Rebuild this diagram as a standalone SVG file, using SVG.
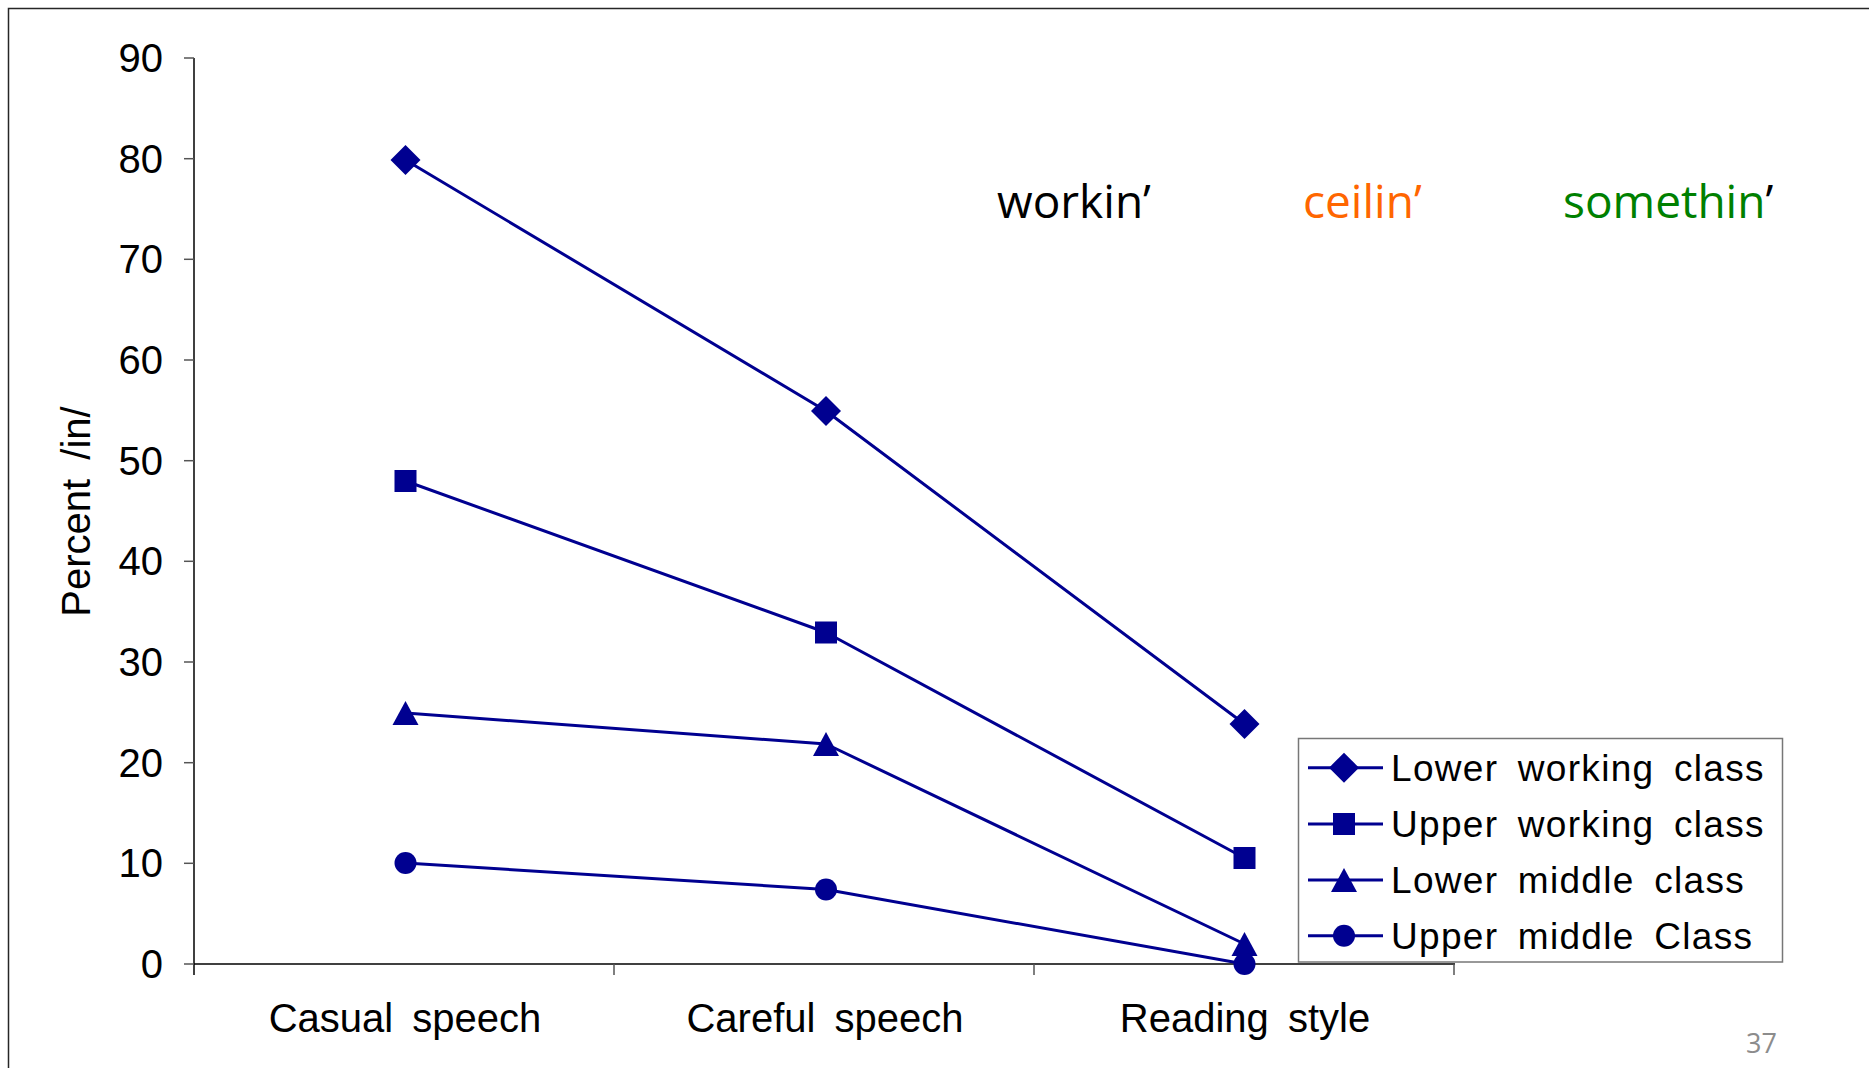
<svg xmlns="http://www.w3.org/2000/svg" width="1869" height="1068" viewBox="0 0 1869 1068">
<defs>
<style>
.ax{font-family:"Liberation Sans",Arial,sans-serif;font-size:40px;fill:#000;word-spacing:8px}
.tick{stroke:#555;stroke-width:1.5}
.axis{stroke:#000;stroke-width:1.5;fill:none}
.ser{stroke:#000090;stroke-width:3;fill:none;stroke-linejoin:round}
.mk{fill:#000090}
.leg{font-family:"Liberation Sans",Arial,sans-serif;font-size:37px;letter-spacing:1.3px;word-spacing:8px;fill:#000}
.word{font-family:"Open Sans","Noto Sans",sans-serif;font-size:46px}
</style>
<path id="dia" d="M0,-15 L15,0 L0,15 L-15,0Z"/>
<rect id="sq" x="-11" y="-11" width="22" height="22"/>
<path id="tri" d="M0,-12 L13,12 L-13,12Z"/>
<circle id="cir" r="11"/>
</defs>
<rect width="1869" height="1068" fill="#fff"/>
<rect id="frame" x="8.5" y="8.5" width="1880" height="1080" fill="none" stroke="#262626" stroke-width="1.5"/>

<g id="y-axis">
<line class="axis" x1="194" y1="58" x2="194" y2="975"/>
<g class="tick">
<line x1="184" y1="964" x2="194" y2="964"/>
<line x1="184" y1="863.3" x2="194" y2="863.3"/>
<line x1="184" y1="762.7" x2="194" y2="762.7"/>
<line x1="184" y1="662" x2="194" y2="662"/>
<line x1="184" y1="561.3" x2="194" y2="561.3"/>
<line x1="184" y1="460.7" x2="194" y2="460.7"/>
<line x1="184" y1="360" x2="194" y2="360"/>
<line x1="184" y1="259.3" x2="194" y2="259.3"/>
<line x1="184" y1="158.7" x2="194" y2="158.7"/>
<line x1="184" y1="58" x2="194" y2="58"/>
</g>
<g class="ax" text-anchor="end">
<text x="163" y="978">0</text>
<text x="163" y="877.3">10</text>
<text x="163" y="776.7">20</text>
<text x="163" y="676">30</text>
<text x="163" y="575.3">40</text>
<text x="163" y="474.7">50</text>
<text x="163" y="374">60</text>
<text x="163" y="273.3">70</text>
<text x="163" y="172.7">80</text>
<text x="163" y="72">90</text>
</g>
<text class="ax" text-anchor="middle" transform="translate(90,511.5) rotate(-90)">Percent /in/</text>
</g>

<g id="x-axis">
<line class="axis" x1="194" y1="964" x2="1455" y2="964"/>
<g class="tick">
<line x1="614" y1="964" x2="614" y2="975"/>
<line x1="1034" y1="964" x2="1034" y2="975"/>
<line x1="1454" y1="964" x2="1454" y2="975"/>
</g>
<g class="ax" text-anchor="middle">
<text x="405" y="1032">Casual speech</text>
<text x="825" y="1032">Careful speech</text>
<text x="1245" y="1032">Reading style</text>
</g>
</g>

<g id="connectors">
<polyline class="ser" points="405.5,160 826,411 1244.5,724"/>
<polyline class="ser" points="405.5,481 826,632.5 1244.5,858"/>
<polyline class="ser" points="405.5,713 826,744 1244.5,944"/>
<polyline class="ser" points="405.5,863 826,889.5 1244.5,964"/>
</g>

<g id="lower-working-class" class="mk">
<use href="#dia" x="405.5" y="160"/>
<use href="#dia" x="826" y="411"/>
<use href="#dia" x="1244.5" y="724"/>
</g>
<g id="upper-working-class" class="mk">
<use href="#sq" x="405.5" y="481"/>
<use href="#sq" x="826" y="632.5"/>
<use href="#sq" x="1244.5" y="858"/>
</g>
<g id="lower-middle-class" class="mk">
<use href="#tri" x="405.5" y="713"/>
<use href="#tri" x="826" y="744"/>
<use href="#tri" x="1244.5" y="944"/>
</g>
<g id="upper-middle-class" class="mk">
<use href="#cir" x="405.5" y="863"/>
<use href="#cir" x="826" y="889.5"/>
<use href="#cir" x="1244.5" y="964"/>
</g>

<g id="legend">
<rect x="1298.5" y="738.5" width="484" height="223.5" fill="#fff" stroke="#777" stroke-width="1.5"/>
<g class="ser">
<line x1="1308" y1="767.7" x2="1383" y2="767.7"/>
<line x1="1308" y1="824" x2="1383" y2="824"/>
<line x1="1308" y1="880" x2="1383" y2="880"/>
<line x1="1308" y1="935.7" x2="1383" y2="935.7"/>
</g>
<g class="mk">
<use href="#dia" x="1344" y="767.7"/>
<use href="#sq" x="1344" y="824"/>
<use href="#tri" x="1344" y="880"/>
<use href="#cir" x="1344" y="935.7"/>
</g>
<g class="leg">
<text x="1391" y="780.7">Lower working class</text>
<text x="1391" y="837">Upper working class</text>
<text x="1391" y="893">Lower middle class</text>
<text x="1391" y="948.7">Upper middle Class</text>
</g>
</g>

<g id="words" class="word">
<text x="997" y="218" fill="#000">workin’</text>
<text x="1303" y="218" fill="#FF6600">ceilin’</text>
<text x="1563" y="218" fill="#008000">somethin<tspan fill="#000">’</tspan></text>
</g>

<text id="page-number" x="1746" y="1053" font-family="'Open Sans','Noto Sans',sans-serif" font-size="27" fill="#8C8C8C">37</text>
</svg>
